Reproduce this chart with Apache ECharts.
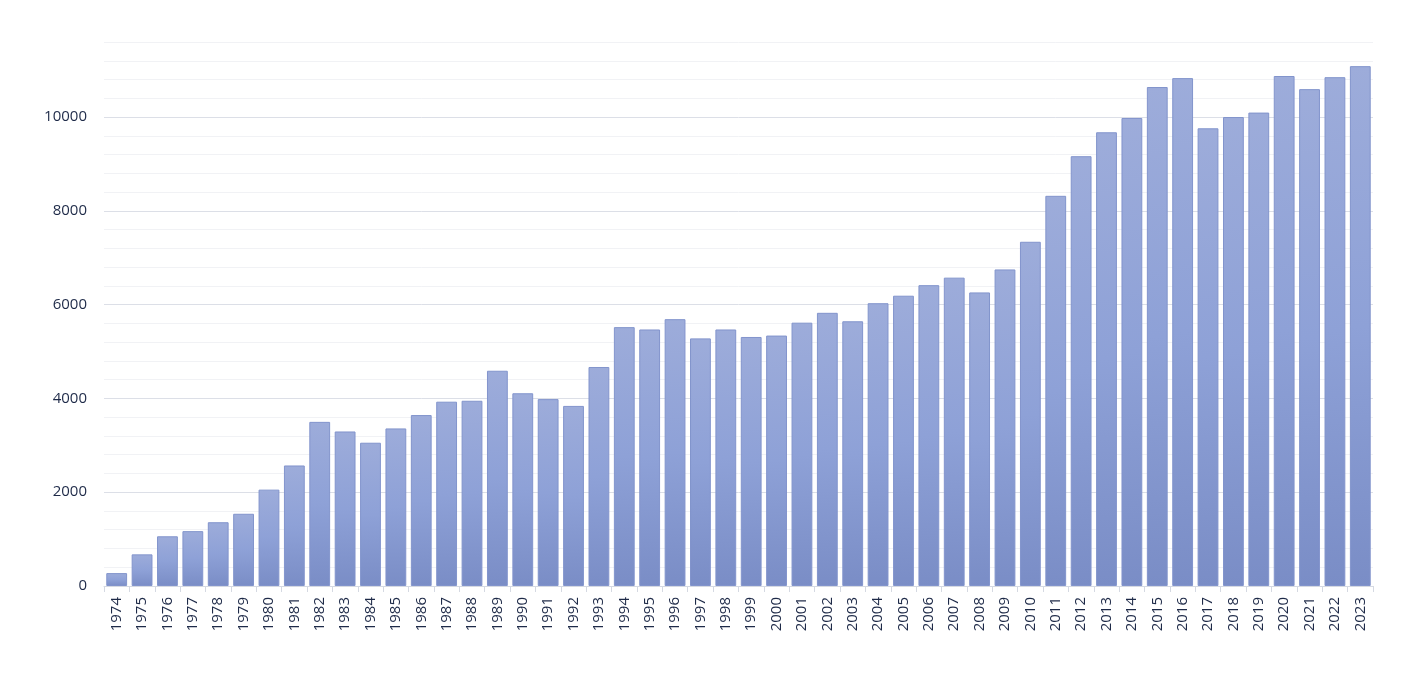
<!DOCTYPE html>
<html>
<head>
<meta charset="utf-8">
<script src="https://cdn.jsdelivr.net/npm/echarts@6/dist/echarts.min.js"></script>
<style>
html,body{margin:0;padding:0;background:#fff;}
#chart{width:1416px;height:688px;}
</style>
</head>
<body>
<div id="chart"></div>
<script>
const years = ['1974','1975','1976','1977','1978','1979','1980','1981','1982','1983','1984','1985','1986','1987','1988','1989','1990','1991','1992','1993','1994','1995','1996','1997','1998','1999','2000','2001','2002','2003','2004','2005','2006','2007','2008','2009','2010','2011','2012','2013','2014','2015','2016','2017','2018','2019','2020','2021','2022','2023'];
const values = [275, 675, 1060, 1170, 1360, 1540, 2055, 2570, 3500, 3295, 3055, 3360, 3645, 3930, 3950, 4590, 4110, 3985, 3840, 4670, 5520, 5470, 5690, 5280, 5470, 5310, 5340, 5615, 5825, 5645, 6030, 6190, 6415, 6575, 6260, 6750, 7340, 8320, 9165, 9675, 9980, 10640, 10830, 9760, 10000, 10095, 10875, 10595, 10850, 11085];
const yMin = 0;
const yMax = 11600;
const yStep = 400;
const yLabelStep = 2000;

const chart = echarts.init(document.getElementById('chart'));
chart.setOption({
  animation: false,
  backgroundColor: '#ffffff',
  grid: {left: 104, right: 43, top: 42, bottom: 102, containLabel: false},
  xAxis: {
    type: 'category',
    data: years,
    axisLine: {lineStyle: {color: '#d5d9e2', width: 1}},
    axisTick: {show: true, alignWithLabel: false, length: 6, lineStyle: {color: '#d5d9e2'}},
    axisLabel: {
      rotate: 90, interval: 0, margin: 11,
      color: '#1e2a48', fontSize: 15, fontFamily: 'Open Sans'
    }
  },
  yAxis: {
    type: 'value',
    min: yMin, max: yMax, interval: yStep,
    axisLine: {show: false},
    axisTick: {show: false},
    axisLabel: {
      color: '#1e2a48', fontSize: 15, fontFamily: 'Open Sans', margin: 17,
      formatter: function (v) { return (v % yLabelStep === 0) ? String(v) : ''; }
    },
    splitLine: {lineStyle: {color: ['#dcdfe7', '#f1f2f5', '#f1f2f5', '#f1f2f5', '#f1f2f5'], width: 1}}
  },
  series: [{
    type: 'bar',
    data: values,
    barCategoryGap: '18%',
    itemStyle: {
      color: new echarts.graphic.LinearGradient(0, 0, 0, 1, [
        {offset: 0, color: '#9dacda'},
        {offset: 0.5, color: '#8ea1d7'},
        {offset: 1, color: '#7a8dc6'}
      ]),
      borderColor: '#8294cc',
      borderWidth: 1
    }
  }]
});
</script>
</body>
</html>
